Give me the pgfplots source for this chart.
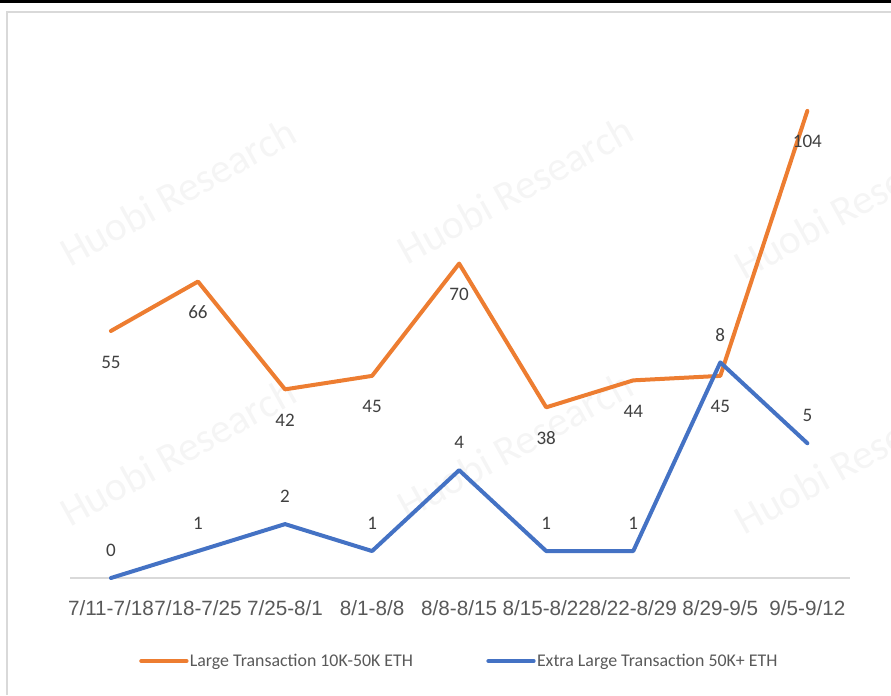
\documentclass[border=0pt]{standalone}
\usepackage{pgfplots}
\pgfplotsset{compat=1.18}
\usepackage{fontspec}
\setmainfont{Carlito}
\newfontfamily\arialfont{Liberation Sans}

\definecolor{orangeline}{HTML}{ED7D31}
\definecolor{blueline}{HTML}{4472C4}
\definecolor{axisgray}{HTML}{D9D9D9}
\definecolor{ticktext}{HTML}{595959}
\definecolor{labeltext}{HTML}{404040}

\tikzset{lbl/.style={font=\fontsize{14.3}{15}\selectfont, text=labeltext, anchor=center}}
\pgfplotsset{
  weekaxis/.style={
    at={(52.5pt,-433.5pt)}, anchor=south west,
    scale only axis, width=585pt, height=404.25pt,
    xmin=-0.47, xmax=8.49, ymin=0, clip=false,
    /pgf/number format/assume math mode=true,
  },
}

\begin{document}
\begin{tikzpicture}
\begin{scope}[x=0.75pt,y=-0.75pt]
  \path[use as bounding box] (0,0) rectangle (891,695);
  \fill[black] (0,0) rectangle (891,3.5);
  \draw[axisgray, line width=1.5pt] (7,695) -- (7,12) -- (891,12);
  % faint watermark
  \foreach \wx/\wy in {178/192, 515/190, 852/205, 178/452, 515/445, 852/460}
    \node[rotate=29, text=black!4, font=\fontsize{31}{31}\selectfont] at (\wx,\wy) {Huobi Research};
\end{scope}

\begin{axis}[weekaxis, ymax=120,
  axis x line=bottom, axis y line=none,
  x axis line style={-, draw=axisgray, line width=1.5pt},
  xtick={0,...,8}, major tick length=0pt,
  xticklabels={7/11-7/18,7/18-7/25,7/25-8/1,8/1-8/8,8/8-8/15,8/15-8/22,8/22-8/29,8/29-9/5,9/5-9/12},
  xticklabel style={anchor=center, yshift=-22.5pt, inner sep=0pt,
    font=\arialfont\fontsize{15.5}{16}\selectfont, text=ticktext},
  legend style={at={(0.4987,-0.154)}, anchor=center, draw=none, fill=none,
    legend columns=2, font=\fontsize{13.4}{14}\selectfont, text=ticktext,
    nodes={inner sep=1pt},
    /tikz/every even column/.append style={column sep=54pt}},
  legend image code/.code={\draw[#1, line width=3pt, line cap=round] (0pt,0pt) -- (34pt,0pt);},
]
\addlegendimage{orangeline}
\addlegendentry{Large Transaction 10K-50K ETH}
\addlegendimage{blueline}
\addlegendentry{Extra Large Transaction 50K+ ETH}
\addplot[forget plot, orangeline, line width=3pt, line join=round, line cap=round, mark=none,
  nodes near coords, every node near coord/.append style={lbl, yshift=-23.25pt}]
  coordinates {(0,55) (1,66) (2,42) (3,45) (4,70) (5,38) (6,44) (7,45) (8,104)};
\end{axis}

\begin{axis}[weekaxis, ymax=20, hide axis]
\addplot[blueline, line width=3pt, line join=round, line cap=round, mark=none,
  nodes near coords, every node near coord/.append style={lbl, yshift=20.5pt}]
  coordinates {(0,0) (1,1) (2,2) (3,1) (4,4) (5,1) (6,1) (7,8) (8,5)};
\end{axis}
\end{tikzpicture}
\end{document}
